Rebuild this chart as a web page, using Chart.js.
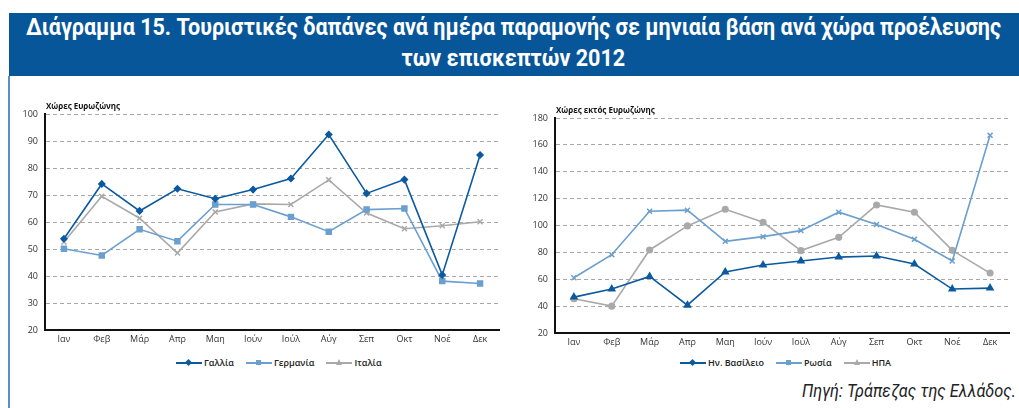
<!DOCTYPE html>
<html>
<head>
<meta charset="utf-8">
<script src="https://cdn.jsdelivr.net/npm/chart.js@4.4.1/dist/chart.umd.min.js"></script>
<style>
  body { margin: 0; width: 1019px; height: 408px; background: #fff; position: relative; overflow: hidden; font-family: "Open Sans", sans-serif; }
  #banner { position: absolute; left: 9px; top: 13px; width: 1010px; height: 63px; background: #07569a; color: #fff;
    font-family: Roboto, sans-serif; font-weight: bold; font-size: 23px; }
  #banner .line { position: absolute; white-space: nowrap; transform-origin: center top; }
  #edge { position: absolute; left: 8px; top: 76px; width: 2px; height: 332px; background: #5d8fc6; }
  .box { position: absolute; }
  .legend { position: absolute; top: 355px; font-size: 9px; font-weight: 600; color: #222; white-space: nowrap; }
  .legend span.item { display: inline-block; margin-right: 12px; vertical-align: middle; }
  .legend span.key { display: inline-block; position: relative; width: 26px; height: 12px; vertical-align: middle; margin-right: 2px; }
  .legend span.key::before { content: ""; position: absolute; left: 0; right: 0; top: 5px; height: 2px; background: var(--c); }
  .legend span.mk { position: absolute; left: 10px; top: 3px; width: 5px; height: 5px; background: var(--c); }
  .legend span.diamond { transform: rotate(45deg); }
  .legend span.tri { width: 0; height: 0; background: none; left: 10px; top: 2px; border-left: 3px solid transparent; border-right: 3px solid transparent; border-bottom: 6px solid var(--c); }
  #source { position: absolute; top: 379px; font-family: Roboto, sans-serif; white-space: nowrap;
    font-style: italic; font-size: 19px; color: #222; transform-origin: right top; }
</style>
</head>
<body>
<div id="banner">
  <span class="line" id="t1">Διάγραμμα 15. Τουριστικές δαπάνες ανά ημέρα παραμονής σε μηνιαία βάση ανά χώρα προέλευσης</span>
  <span class="line" id="t2">των επισκεπτών 2012</span>
</div>
<div id="edge"></div>
<div class="box" style="left:10px; top:96px; width:495px; height:250px;"><canvas id="left"></canvas></div>
<div class="box" style="left:520px; top:100px; width:495px; height:249px;"><canvas id="right"></canvas></div>
<div class="legend" id="legendLeft" style="left:176px;"></div>
<div class="legend" id="legendRight" style="left:680px;"></div>
<div id="source">Πηγή: Τράπεζας της Ελλάδος.</div>
<script>
const months = ["Ιαν", "Φεβ", "Μάρ", "Απρ", "Μαη", "Ιούν", "Ιούλ", "Αύγ", "Σεπ", "Οκτ", "Νοέ", "Δεκ"];

// Χώρες Ευρωζώνης
const gallia = [53.8, 74.1, 64.1, 72.3, 68.6, 72.0, 76.1, 92.4, 70.6, 75.7, 40.4, 84.8];
const germania = [50.1, 47.6, 57.3, 52.9, 66.5, 66.5, 61.9, 56.4, 64.6, 65.0, 38.1, 37.2];
const italia = [52.6, 69.5, 61.4, 48.5, 63.7, 66.7, 66.5, 75.6, 63.3, 57.5, 58.6, 60.1];

// Χώρες εκτός Ευρωζώνης
const hvVasileio = [46.7, 52.7, 62.1, 40.7, 65.4, 70.6, 73.6, 76.5, 77.3, 71.3, 52.7, 53.4];
const rosia = [61.1, 78.3, 110.6, 111.4, 88.2, 91.7, 96.2, 109.9, 100.7, 89.7, 73.6, 167.1];
const ipa = [45.5, 40.0, 81.8, 99.7, 112.1, 102.4, 81.3, 91.2, 115.3, 109.9, 81.5, 64.6];

const darkBlue = "#0b5aa0";
const lightBlue = "#6a9fcf";
const grey = "#a9a9a9";

const fontFamily = "'Open Sans', sans-serif";

// squeeze title lines like the condensed font of the original
(function fitText() {
    const t1 = document.getElementById("t1");
    const t2 = document.getElementById("t2");
    const k = 975 / t1.offsetWidth;
    [[t1, 1], [t2, 32]].forEach(([el, top]) => {
        const w = el.offsetWidth;
        el.style.left = (504 - w / 2) + "px";
        el.style.top = top + "px";
        el.style.transform = "scaleX(" + k + ")";
    });
    const src = document.getElementById("source");
    src.style.left = (1016 - src.offsetWidth) + "px";
    src.style.transform = "scaleX(" + (214 / src.offsetWidth) + ")";
})();

// axis caption above the y axis
const captionPlugin = {
    id: "caption",
    afterDraw(chart, args, opts) {
        const ctx = chart.ctx;
        ctx.save();
        ctx.font = "bold 8px " + fontFamily;
        ctx.fillStyle = "#111";
        ctx.textBaseline = "bottom";
        ctx.fillText(opts.text, chart.chartArea.left + 1, chart.chartArea.top - 3);
        ctx.restore();
    }
};

function makeChart(id, caption, series, yMin, yMax, yStep) {
    const ctx = document.getElementById(id).getContext("2d");
    return new Chart(ctx, {
        type: "line",
        data: {
            labels: months,
            datasets: series.map(s => ({
                label: s.label,
                data: s.data,
                borderColor: s.color,
                backgroundColor: s.color,
                borderWidth: 1.6,
                pointStyle: s.point,
                pointRadius: s.radius,
                pointBorderWidth: 1.5,
                tension: 0
            }))
        },
        options: {
            responsive: true,
            maintainAspectRatio: false,
            animation: false,
            layout: { padding: { top: 18, right: 6, left: 0, bottom: 0 } },
            plugins: {
                legend: { display: false },
                tooltip: { enabled: false },
                caption: { text: caption }
            },
            scales: {
                x: {
                    offset: true,
                    grid: { display: false, drawTicks: false },
                    border: { display: true, color: "#111", width: 2 },
                    ticks: { color: "#333", font: { family: fontFamily, size: 9 }, padding: 4, maxRotation: 0, autoSkip: false },
                    afterFit: s => { s.height = 16; }
                },
                y: {
                    min: yMin,
                    max: yMax,
                    grid: {
                        drawTicks: false,
                        color: c => c.tick && c.tick.value === yMin ? "rgba(0,0,0,0)" : "#a8a8a8",
                        lineWidth: 1
                    },
                    border: { display: true, color: "#111", width: 2, dash: [4, 3] },
                    ticks: { stepSize: yStep, color: "#333", font: { family: fontFamily, size: 9 }, padding: 7 },
                    afterFit: s => { s.width = 35; }
                }
            }
        },
        plugins: [captionPlugin]
    });
}

makeChart("left", "Χώρες Ευρωζώνης", [
    { label: "Γαλλία", data: gallia, color: darkBlue, point: "rectRot", radius: 3 },
    { label: "Γερμανία", data: germania, color: lightBlue, point: "rect", radius: 3.5 },
    { label: "Ιταλία", data: italia, color: grey, point: "crossRot", radius: 3.5 }
], 20, 100, 10);

makeChart("right", "Χώρες εκτός Ευρωζώνης", [
    { label: "Ην. Βασίλειο", data: hvVasileio, color: darkBlue, point: "triangle", radius: 3.5 },
    { label: "Ρωσία", data: rosia, color: lightBlue, point: "crossRot", radius: 3.5 },
    { label: "ΗΠΑ", data: ipa, color: grey, point: "circle", radius: 2.8 }
], 20, 180, 20);

function buildLegend(id, items) {
    const el = document.getElementById(id);
    items.forEach(it => {
        const item = document.createElement("span");
        item.className = "item";
        item.style.setProperty("--c", it.color);
        const key = document.createElement("span");
        key.className = "key";
        const mk = document.createElement("span");
        mk.className = "mk " + it.mark;
        key.appendChild(mk);
        item.appendChild(key);
        item.appendChild(document.createTextNode(it.label));
        el.appendChild(item);
    });
}

buildLegend("legendLeft", [
    { label: "Γαλλία", color: darkBlue, mark: "diamond" },
    { label: "Γερμανία", color: lightBlue, mark: "" },
    { label: "Ιταλία", color: grey, mark: "tri" }
]);
buildLegend("legendRight", [
    { label: "Ην. Βασίλειο", color: darkBlue, mark: "diamond" },
    { label: "Ρωσία", color: lightBlue, mark: "" },
    { label: "ΗΠΑ", color: grey, mark: "tri" }
]);
</script>
</body>
</html>
